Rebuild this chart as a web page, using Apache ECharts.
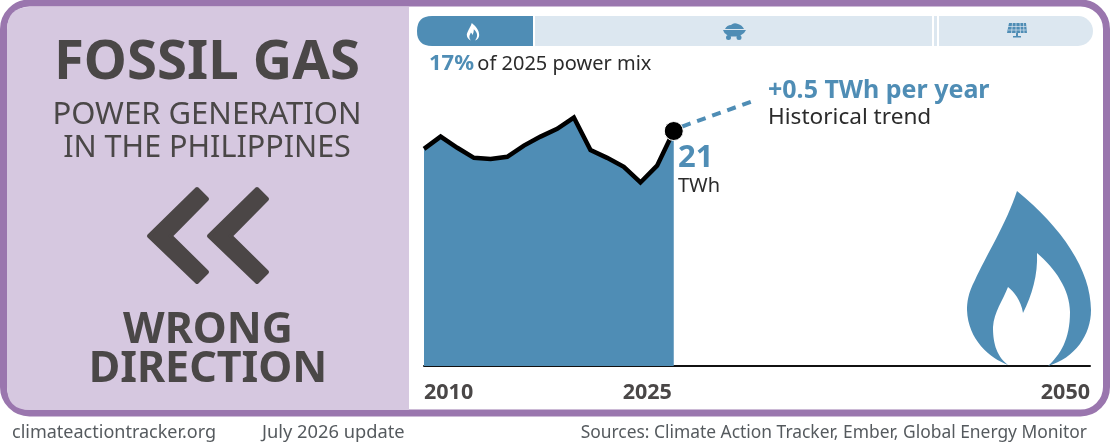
<!DOCTYPE html>
<html><head><meta charset="utf-8">
<style>html,body{margin:0;padding:0;background:#fff}#c{width:1110px;height:444px}</style>
<script src="https://cdn.jsdelivr.net/npm/echarts@6/dist/echarts.min.js"></script></head>
<body><div id="c"></div>
<script>
const years=[2010,2011,2012,2013,2014,2015,2016,2017,2018,2019,2020,2021,2022,2023,2024,2025];
const gasTWh=[19.4,20.5,19.5,18.6,18.5,18.7,19.7,20.5,21.2,22.2,19.3,18.6,17.8,16.4,17.9,21.0];
const trendYears=[2025.5,2029.8];
const trendValues=[21.4,23.7];
const tickYears=[2010,2025,2050];
const FONT='"Noto Sans"';
const DARK='#4a4747',BLUE='#4f8db5',LIGHT='#dce7f0',PURPLE='#9a76ae',PANEL='#d6c8e0',INK='#2b2b2b',FOOT='#555a5e';
const FLAME='M1017 191C1007 222 985 258 975 280C968 293 967 303 967 310C968 340 990 358 1008 365C995 355 993 340 993 327C994 312 1003 300 1008 287C1014 292 1021 300 1023 313C1032 295 1038 275 1037 253C1055 268 1070 290 1070 312C1070 340 1060 355 1048 366C1075 358 1091 335 1091 310C1091 270 1062 228 1017 191Z';
function txt(x,y,text,size,fill,weight,align){return {type:'text',x,y,z:5,style:{text,font:(weight||'normal')+' '+size+'px '+FONT,fill,textAlign:align||'left',textVerticalAlign:'middle'}};}
function p(d,style,extra){return Object.assign({type:'path',shape:{pathData:d},style},extra||{});}
const decorations=[
  p('M7 30Q7 7 30 7L409 7L409 410L30 410Q7 410 7 387Z',{fill:PANEL}),
  p('M432 16L533 16L533 46L432 46Q417 46 417 31Q417 16 432 16Z',{fill:BLUE}),
  p(FLAME,{fill:'#fff'},{x:473-102.9,y:23-19.1,scaleX:.1,scaleY:.1}),
  p('M725 29Q727 25 731 25Q734 22 738 24Q742 25 744 29Z',{fill:BLUE}),
  p('M723 30L746 30L744 33L739 36.5L729 36.5L724.5 33Z',{fill:BLUE}),
  p('M1009 23L1026 23L1027 33L1007 33ZM1016 33L1018 33L1018 36L1021 36L1021 37.5L1013 37.5L1013 36L1016 36Z',{fill:BLUE}),
  p('M1012.5 23L1011.5 33M1016 23L1016 33M1020 23L1020.5 33M1023.5 23L1024 33M1008 26.5L1026.5 26.5M1008 30L1026.5 30',{stroke:LIGHT,lineWidth:.7,fill:null}),
  p(FLAME,{fill:BLUE})
];
const chev=dx=>({type:'polygon',z:5,shape:{points:[[149+dx,236],[197+dx,189],[207+dx,199],[170.5+dx,236],[207+dx,272],[197+dx,282]]},style:{fill:'#4b4646',stroke:'#4b4646',lineWidth:4,lineJoin:'round'}});
const axisFont={fontFamily:FONT,fontWeight:'bold',fontSize:21.5,color:DARK};
const chart=echarts.init(document.getElementById('c'),null,{renderer:'canvas'});
chart.setOption({
 animation:false,backgroundColor:'#fff',
 grid:{left:424,right:20,top:30.3,bottom:78},
 xAxis:{type:'value',min:2010,max:2050,splitLine:{show:false},axisTick:{show:false},
  axisLine:{show:true,onZero:false,lineStyle:{color:'#111',width:2}},
  axisLabel:{customValues:tickYears,alignMinLabel:'left',alignMaxLabel:'right',margin:16,
   formatter:v=>v===2025?'{s|'+v+'}':'{n|'+v+'}',
   rich:{n:axisFont,s:Object.assign({padding:[0,53,0,0]},axisFont)}}},
 yAxis:{type:'value',min:0,max:30,show:false},
 series:[
  {type:'custom',coordinateSystem:'none',data:[0],silent:true,z:1,renderItem:()=>({type:'group',children:decorations})},
  {type:'line',data:years.map((y,i)=>[y,gasTWh[i]]),showSymbol:false,z:3,lineStyle:{color:'#000',width:4.5,join:'miter'},areaStyle:{color:BLUE,opacity:1}},
  {type:'line',data:trendYears.map((y,i)=>[y,trendValues[i]]),showSymbol:false,z:3,lineStyle:{color:BLUE,width:4,type:[9,7]}},
  {type:'scatter',data:[[years[15],gasTWh[15]]],symbolSize:19,z:4,itemStyle:{color:'#000',opacity:1,borderColor:'#fff',borderWidth:1}}
 ],
 graphic:[
  {type:'rect',z:-3,shape:{x:3.5,y:3,width:1103,height:410,r:26},style:{fill:'#fff',stroke:PURPLE,lineWidth:7}},
  {type:'rect',z:0,shape:{x:417,y:16,width:676,height:30,r:15},style:{fill:LIGHT}},
  {type:'rect',z:2,shape:{x:533,y:16,width:2,height:30},style:{fill:'#fff'}},
  {type:'rect',z:2,shape:{x:932,y:16,width:2,height:30},style:{fill:'#fff'}},
  {type:'rect',z:2,shape:{x:937,y:16,width:2,height:30},style:{fill:'#fff'}},
  {type:'circle',z:3,shape:{cx:728.5,cy:37.5,r:2.5},style:{fill:BLUE}},
  {type:'circle',z:3,shape:{cx:739,cy:37.5,r:2.5},style:{fill:BLUE}},
  txt(207,63,'FOSSIL GAS',54.5,DARK,'bold','center'),
  txt(207,115,'POWER GENERATION',31,DARK,'normal','center'),
  txt(207,148,'IN THE PHILIPPINES',30.5,DARK,'normal','center'),
  chev(0),chev(60),
  txt(208,331,'WRONG',43,DARK,'bold','center'),
  txt(208,370,'DIRECTION',43,DARK,'bold','center'),
  {type:'text',x:429,y:64,z:5,style:{text:'{a|17%} {b|of 2025 power mix}',textVerticalAlign:'middle',rich:{a:{fontFamily:FONT,fontWeight:'bold',fontSize:22,fill:BLUE},b:{fontFamily:FONT,fontSize:20,fill:INK}}}},
  txt(678,158,'21',31,BLUE,'bold'),
  txt(678,186,'TWh',20,INK),
  txt(768,91,'+0.5 TWh per year',25,BLUE,'bold'),
  txt(768,118,'Historical trend',22.6,INK),
  txt(12,433,'climateactiontracker.org',18,FOOT),
  txt(262,433,'July 2026 update',18.3,FOOT),
  txt(1087,433,'Sources: Climate Action Tracker, Ember, Global Energy Monitor',17.4,FOOT,'normal','right')
 ]
});
</script></body></html>
